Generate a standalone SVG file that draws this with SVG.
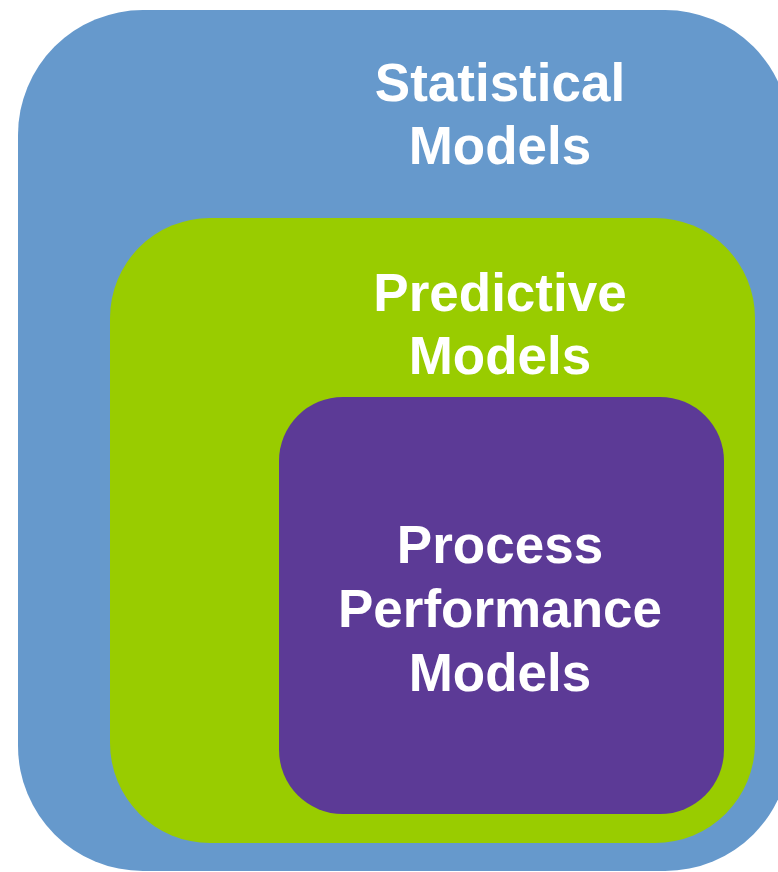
<svg xmlns="http://www.w3.org/2000/svg" width="778" height="872" viewBox="0 0 778 872">
<style>
.lbl{font-family:"Liberation Sans",Arial,Helvetica,sans-serif;font-weight:bold;font-size:53px;fill:#ffffff;text-anchor:middle}
</style>
<rect width="778" height="872" fill="#ffffff"/>
<g id="statistical">
<rect x="18" y="10" width="772" height="861" rx="125" ry="125" fill="#6699CC"/>
<text class="lbl" x="500" y="101">Statistical</text>
<text class="lbl" x="500" y="164">Models</text>
</g>
<g id="predictive">
<rect x="110" y="218" width="645" height="625" rx="100" ry="100" fill="#99CC00"/>
<text class="lbl" x="500" y="311">Predictive</text>
<text class="lbl" x="500" y="374">Models</text>
</g>
<g id="process">
<rect x="279" y="397" width="445" height="417" rx="64" ry="64" fill="#5C3A96"/>
<text class="lbl" x="500" y="563">Process</text>
<text class="lbl" x="500" y="627">Performance</text>
<text class="lbl" x="500" y="691">Models</text>
</g>
<g id="connectors"></g>
</svg>
